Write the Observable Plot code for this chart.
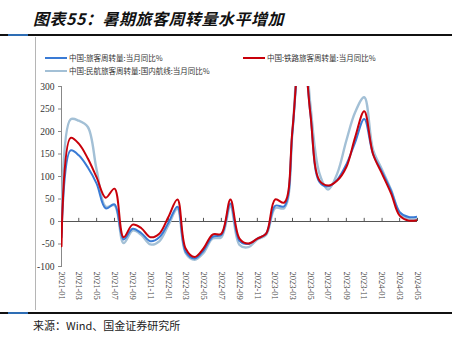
<!DOCTYPE html>
<html><head><meta charset="utf-8">
<script src="https://cdn.jsdelivr.net/npm/d3@7"></script>
<script src="https://cdn.jsdelivr.net/npm/@observablehq/plot@0.6"></script>
<style>
html,body{margin:0;padding:0;background:#fff;}
#wrap{position:relative;width:464px;height:342px;overflow:hidden;font-family:"Noto Sans CJK SC",sans-serif;}
#chart{position:absolute;left:0;top:0;}
.abs{position:absolute;}
#title{left:33px;top:6px;font-size:16px;font-weight:bold;font-style:italic;color:#111;letter-spacing:0.5px;white-space:nowrap;}
.rule{position:absolute;left:0;width:452px;height:1.5px;background:#111;}
.rule i{position:absolute;left:8px;width:20px;height:1.5px;background:#2e6db4;}
#vline{left:35px;top:37px;width:1px;height:273px;background:#b5b5b5;}
.leg{position:absolute;font-size:7.5px;color:#333;white-space:nowrap;display:flex;align-items:center;}
.leg b{display:inline-block;width:22px;height:2px;margin-right:2px;}
#source{left:33px;top:317px;font-size:11px;color:#222;white-space:nowrap;}
</style></head>
<body><div id="wrap">
<div id="title" class="abs">图表55：暑期旅客周转量水平增加</div>
<div class="rule" style="top:34px"><i></i></div>
<div id="vline" class="abs"></div>
<div id="chart"></div>
<div id="legend"></div>
<div class="rule" style="top:312px"><i></i></div>
<div id="source" class="abs">来源：Wind、国金证券研究所</div>
</div>
<script>
const months = ["2021-01","2021-02","2021-03","2021-04","2021-05","2021-06","2021-07","2021-08","2021-09","2021-10","2021-11","2021-12",
"2022-01","2022-02","2022-03","2022-04","2022-05","2022-06","2022-07","2022-08","2022-09","2022-10","2022-11","2022-12",
"2023-01","2023-02","2023-03","2023-04","2023-05","2023-06","2023-07","2023-08","2023-09","2023-10","2023-11","2023-12",
"2024-01","2024-02","2024-03","2024-04","2024-05"];
const seriesNames = ["中国:旅客周转量:当月同比%","中国:铁路旅客周转量:当月同比%","中国:民航旅客周转量:国内航线:当月同比%"];
const total = [-35,158,147,120,84,29,38,-40,-16,-26,-44,-35,-3,33,-67,-82,-65,-34,-30,40,-43,-50,-38,-27,35,34,200,420,240,88,78,93,127,176,228,150,110,68,21,10,11];
const rail  = [-55,186,173,140,98,53,73,-35,-7,-15,-35,-27,10,49,-60,-79,-60,-29,-27,49,-38,-49,-38,-27,49,42,205,430,240,91,80,91,121,187,245,150,106,62,13,2,3];
const air   = [-25,227,224,210,115,33,36,-48,-20,-30,-51,-44,-8,28,-70,-85,-70,-38,-35,34,-52,-57,-40,-30,30,30,200,480,260,107,71,107,180,243,276,160,115,70,20,6,5];
const xTickLabels = ["2021-01","2021-03","2021-05","2021-07","2021-09","2021-11","2022-01","2022-03","2022-05","2022-07","2022-09","2022-11","2023-01","2023-03","2023-05","2023-07","2023-09","2023-11","2024-01","2024-03","2024-05"];
const yTicks = [-100,-50,0,50,100,150,200,250,300];
const colors = ["#3a7bd5","#c8000a","#a3c0d6"];

const parse = d3.utcParse("%Y-%m");
const rows = [];
[total, rail, air].forEach((vals, s) => vals.forEach((v, i) => rows.push({date: parse(months[i]), value: v, series: seriesNames[s]})));
const ticks = xTickLabels.map(t => ({date: parse(t), label: t}));

const line = (s, w) => Plot.line(rows.filter(r => r.series === seriesNames[s]), {
  x: "date", y: "value", stroke: colors[s], strokeWidth: w, curve: "catmull-rom", clip: true
});

const chart = Plot.plot({
  width: 464, height: 342,
  marginLeft: 61, marginRight: 47, marginTop: 86, marginBottom: 76,
  style: {fontFamily: "'Liberation Serif', serif", fontSize: "9.5px", color: "#333", background: "transparent", overflow: "visible"},
  x: {type: "utc", domain: [parse(months[0]), parse(months[months.length - 1])], axis: null},
  y: {domain: [-100, 300]},
  marks: [
    Plot.axisY({ticks: yTicks, tickFormat: d => String(d), tickSize: 3, tickPadding: 4, stroke: "#888", fontSize: 9.5, label: null}),
    Plot.frame({anchor: "left", stroke: "#888"}),
    Plot.text(ticks, {x: "date", y: () => -100, text: "label", rotate: 90, textAnchor: "start", lineAnchor: "middle", dy: 5, fontSize: 8.5, fill: "#444"}),
    Plot.ruleY([0], {stroke: "#555", strokeWidth: 1}),
    Plot.ruleX(ticks, {x: "date", y1: 0, y2: 7, stroke: "#555"}),
    line(2, 2.4),
    line(0, 2),
    line(1, 2)
  ]
});
document.getElementById("chart").appendChild(chart);

const legPos = [[45, 52], [243, 52], [45, 65]];
const legend = document.getElementById("legend");
seriesNames.forEach((n, i) => {
  const d = document.createElement("div");
  d.className = "leg";
  d.style.left = legPos[i][0] + "px";
  d.style.top = legPos[i][1] + "px";
  d.innerHTML = `<b style="background:${colors[i]}"></b><span>${n}</span>`;
  legend.appendChild(d);
});
</script>
</body></html>
